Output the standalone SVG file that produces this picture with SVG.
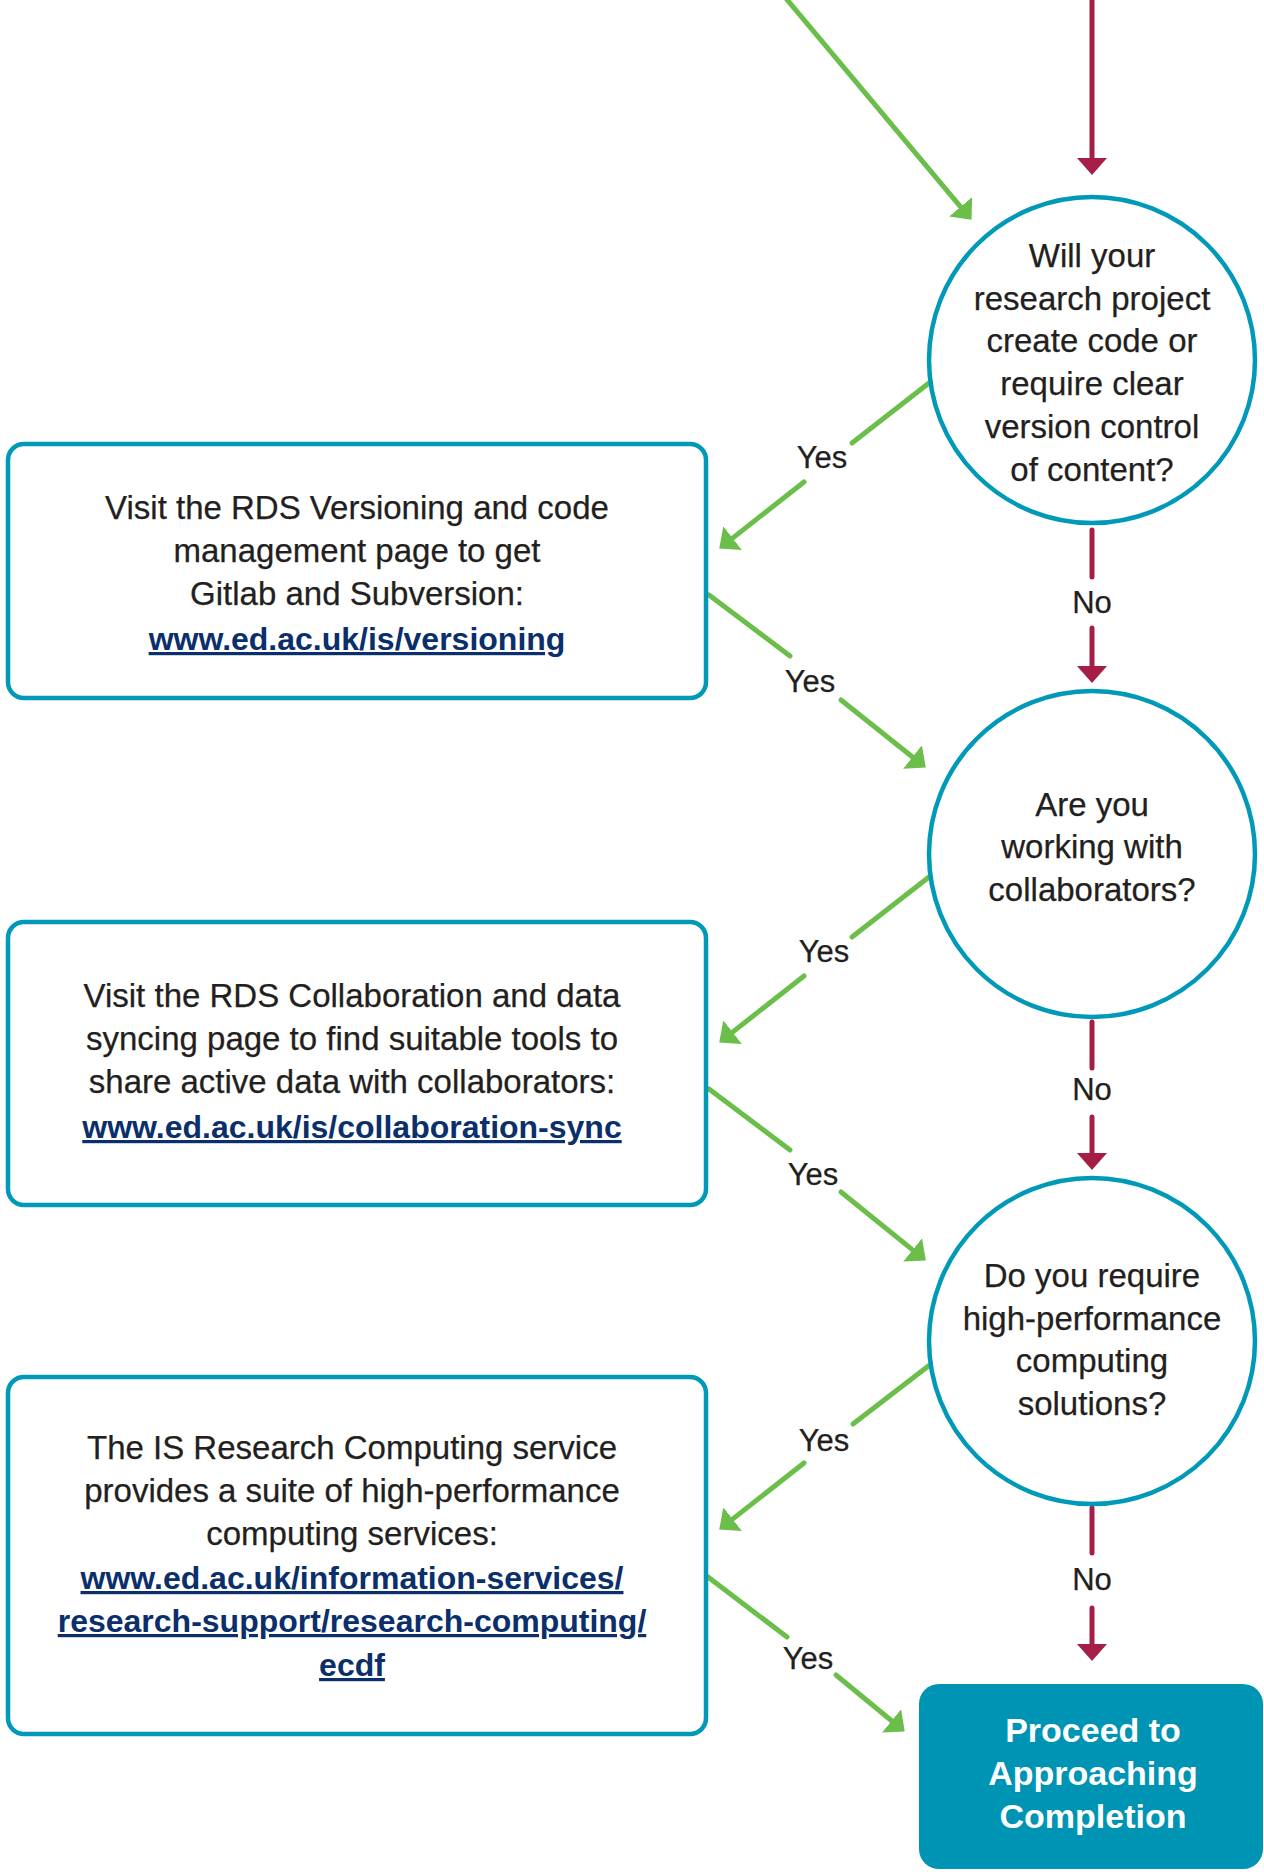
<svg xmlns="http://www.w3.org/2000/svg" width="1264" height="1876" viewBox="0 0 1264 1876">
<defs>
<style>
.t{font-family:"Liberation Sans",Arial,Helvetica,sans-serif;font-size:33px;fill:#231f20;text-anchor:middle;stroke:#231f20;stroke-width:0.25}
.u{font-family:"Liberation Sans",Arial,Helvetica,sans-serif;font-size:32px;font-weight:bold;fill:#0b2f6b;text-anchor:middle;text-decoration:underline}
.l{font-family:"Liberation Sans",Arial,Helvetica,sans-serif;font-size:31px;fill:#231f20;text-anchor:middle;stroke:#231f20;stroke-width:0.25}
.f{font-family:"Liberation Sans",Arial,Helvetica,sans-serif;font-size:34px;font-weight:bold;fill:#ffffff;text-anchor:middle}
.node{fill:#ffffff;stroke:#0099b7;stroke-width:4.5}
.g{stroke:#6abe49;stroke-width:5;stroke-linecap:round;fill:none}
.r{stroke:#a61d45;stroke-width:5;stroke-linecap:round;fill:none}
.ga{stroke:#6abe49;stroke-width:5;stroke-linecap:round;fill:none;marker-end:url(#ag)}
.ra{stroke:#a61d45;stroke-width:5;stroke-linecap:round;fill:none;marker-end:url(#ar)}
</style>
<marker id="ag" viewBox="0 -15 17 30" refX="0" refY="0" markerWidth="17" markerHeight="30" markerUnits="userSpaceOnUse" orient="auto">
<path d="M0,-15 L17,0 L0,15 Z" fill="#6abe49"/>
</marker>
<marker id="ar" viewBox="0 -15 17 30" refX="0" refY="0" markerWidth="17" markerHeight="30" markerUnits="userSpaceOnUse" orient="auto">
<path d="M0,-15 L17,0 L0,15 Z" fill="#a61d45"/>
</marker>
</defs>
<rect width="1264" height="1876" fill="#ffffff"/>

<g id="connectors">
<line class="ga" x1="784" y1="-4" x2="960.6" y2="206.8"/>
<line class="ra" x1="1092" y1="-4" x2="1092" y2="158"/>

<line class="g" x1="929" y1="383" x2="852" y2="443"/>
<line class="ga" x1="804" y1="482" x2="732.6" y2="538.1"/>
<text class="l" x="822" y="468">Yes</text>

<line class="g" x1="709" y1="595" x2="790" y2="656"/>
<line class="ga" x1="841" y1="700" x2="912.5" y2="757"/>
<text class="l" x="810" y="692">Yes</text>

<line class="r" x1="1092" y1="530" x2="1092" y2="577"/>
<line class="ra" x1="1092" y1="628" x2="1092" y2="666"/>
<text class="l" x="1092" y="613">No</text>

<line class="g" x1="929" y1="877" x2="852" y2="937"/>
<line class="ga" x1="804" y1="976" x2="732.6" y2="1032.1"/>
<text class="l" x="824" y="962">Yes</text>

<line class="g" x1="709" y1="1089" x2="790" y2="1150"/>
<line class="ga" x1="841" y1="1192" x2="912.6" y2="1249.9"/>
<text class="l" x="813" y="1185">Yes</text>

<line class="r" x1="1092" y1="1022" x2="1092" y2="1068"/>
<line class="ra" x1="1092" y1="1117" x2="1092" y2="1153"/>
<text class="l" x="1092" y="1100">No</text>

<line class="g" x1="931" y1="1364" x2="853" y2="1424"/>
<line class="ga" x1="804" y1="1463" x2="732.6" y2="1519.1"/>
<text class="l" x="824" y="1451">Yes</text>

<line class="g" x1="708" y1="1577" x2="787" y2="1637"/>
<line class="ga" x1="836" y1="1675" x2="891.6" y2="1720.8"/>
<text class="l" x="808" y="1669">Yes</text>

<line class="r" x1="1092" y1="1508" x2="1092" y2="1553"/>
<line class="ra" x1="1092" y1="1608" x2="1092" y2="1644"/>
<text class="l" x="1092" y="1590">No</text>
</g>

<g id="q-code">
<circle class="node" cx="1092" cy="360" r="163"/>
<text class="t" x="1092" y="267">Will your</text>
<text class="t" x="1092" y="310">research project</text>
<text class="t" x="1092" y="352">create code or</text>
<text class="t" x="1092" y="395">require clear</text>
<text class="t" x="1092" y="438">version control</text>
<text class="t" x="1092" y="481">of content?</text>
</g>

<g id="q-collab">
<circle class="node" cx="1092" cy="854" r="163"/>
<text class="t" x="1092" y="816">Are you</text>
<text class="t" x="1092" y="858">working with</text>
<text class="t" x="1092" y="901">collaborators?</text>
</g>

<g id="q-hpc">
<circle class="node" cx="1092" cy="1341" r="163"/>
<text class="t" x="1092" y="1287">Do you require</text>
<text class="t" x="1092" y="1330">high-performance</text>
<text class="t" x="1092" y="1372">computing</text>
<text class="t" x="1092" y="1415">solutions?</text>
</g>

<g id="box-versioning">
<rect class="node" x="8" y="444" width="698" height="254" rx="16"/>
<text class="t" x="357" y="519">Visit the RDS Versioning and code</text>
<text class="t" x="357" y="562">management page to get</text>
<text class="t" x="357" y="605">Gitlab and Subversion:</text>
<text class="u" x="357" y="650">www.ed.ac.uk/is/versioning</text>
</g>

<g id="box-collab">
<rect class="node" x="8" y="922" width="698" height="283" rx="16"/>
<text class="t" x="352" y="1007">Visit the RDS Collaboration and data</text>
<text class="t" x="352" y="1050">syncing page to find suitable tools to</text>
<text class="t" x="352" y="1093">share active data with collaborators:</text>
<text class="u" x="352" y="1138">www.ed.ac.uk/is/collaboration-sync</text>
</g>

<g id="box-hpc">
<rect class="node" x="8" y="1377" width="698" height="357" rx="16"/>
<text class="t" x="352" y="1459">The IS Research Computing service</text>
<text class="t" x="352" y="1502">provides a suite of high-performance</text>
<text class="t" x="352" y="1545">computing services:</text>
<text class="u" x="352" y="1589">www.ed.ac.uk/information-services/</text>
<text class="u" x="352" y="1632">research-support/research-computing/</text>
<text class="u" x="352" y="1676">ecdf</text>
</g>

<g id="proceed">
<rect x="919" y="1684" width="344" height="185" rx="20" fill="#0094b4"/>
<text class="f" x="1093" y="1742">Proceed to</text>
<text class="f" x="1093" y="1785">Approaching</text>
<text class="f" x="1093" y="1828">Completion</text>
</g>
</svg>
